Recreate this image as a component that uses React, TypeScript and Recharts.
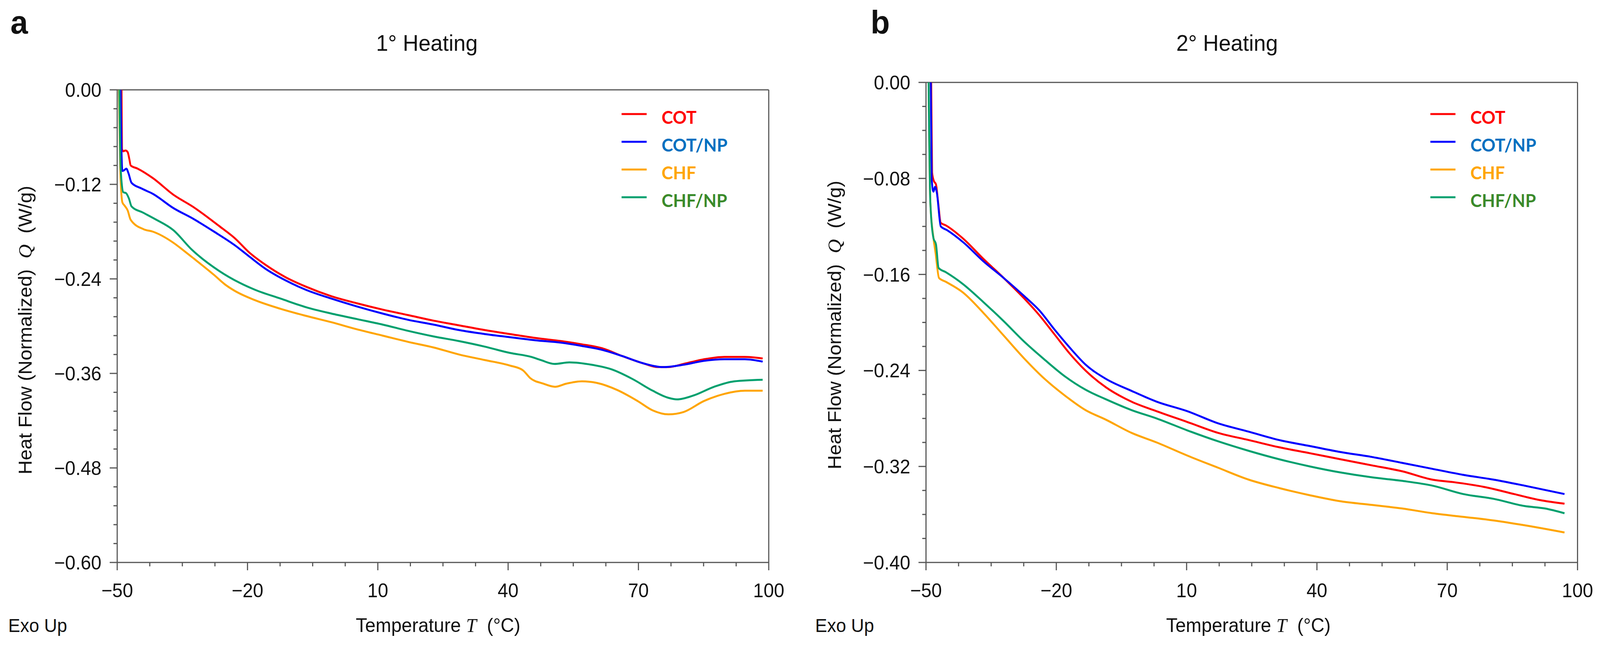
import React from 'react';
import { LineChart, Line, XAxis, YAxis, ReferenceLine } from 'recharts';

// DSC heat-flow curves, two heating runs
const AXIS = '#555555';
const FONT = '"Liberation Sans", Arial, sans-serif';
const LEGEND_FONT = 'Lato, "Open Sans", sans-serif';
const PAGE_W = 4273;
const PAGE_H = 1659;

const seriesNames = ['COT', 'COT/NP', 'CHF', 'CHF/NP'];
const lineColors = ['#ff0000', '#0000ff', '#ffa500', '#00a06e'];
const labelColors = ['#ff0000', '#0070c0', '#ffa500', '#3a8a2a'];

const xMajorTicks = [-50, -20, 10, 40, 70, 100];
const yMajorTicks1 = [-0.6, -0.48, -0.36, -0.24, -0.12, 0];
const yMajorTicks2 = [-0.4, -0.32, -0.24, -0.16, -0.08, 0];

// 1° heating
const h1CotT = [-49.0, -48.9, -48.6, -48.1, -47.6, -47.2, -46.9, -45.3, -41.8, -37.1, -32.4, -26.5, -23, -19.5, -15.9, -11.2, -6.5, -0.7, 5.2, 11.1, 17, 22.8, 28.7, 34.6, 40.4, 46.3, 52.2, 56.9, 61.6, 66.3, 71, 74.5, 76.9, 80.4, 85.1, 89.8, 94.5, 98.6];
const h1CotQ = [0, -0.075, -0.078, -0.077, -0.079, -0.088, -0.096, -0.100, -0.112, -0.133, -0.149, -0.173, -0.188, -0.207, -0.222, -0.238, -0.25, -0.262, -0.271, -0.279, -0.286, -0.293, -0.299, -0.305, -0.31, -0.315, -0.319, -0.323, -0.328, -0.338, -0.347, -0.352, -0.352, -0.348, -0.342, -0.339, -0.339, -0.341];

const h1CotNpT = [-49.2, -49.0, -48.8, -48.4, -47.9, -47.4, -46.7, -44.5, -41.8, -37.1, -32.4, -27.7, -23, -19.5, -15.9, -11.2, -6.5, -0.7, 5.2, 11.1, 17, 22.8, 28.7, 34.6, 40.4, 46.3, 52.2, 56.9, 61.6, 66.3, 71, 75.7, 80.4, 85.1, 89.8, 94.5, 98.6];
const h1CotNpQ = [0, -0.08, -0.103, -0.102, -0.100, -0.106, -0.118, -0.125, -0.132, -0.150, -0.164, -0.180, -0.197, -0.212, -0.227, -0.242, -0.254, -0.265, -0.275, -0.284, -0.292, -0.298, -0.305, -0.31, -0.314, -0.318, -0.321, -0.325, -0.33, -0.338, -0.347, -0.352, -0.349, -0.344, -0.342, -0.342, -0.345];

const h1ChfT = [-49.6, -49.3, -48.8, -48.3, -47.6, -46.9, -43.9, -41.8, -37.1, -34.7, -32.4, -27.7, -25.2, -23, -18.3, -12.4, -6.5, -0.7, 5.2, 11.1, 17, 22.8, 28.7, 34.6, 40.4, 43.4, 45.1, 48.1, 50.8, 53.4, 57, 60.4, 65.1, 69.8, 73.3, 76.9, 80.4, 85.1, 89.8, 94.5, 98.6];
const h1ChfQ = [0, -0.1, -0.143, -0.147, -0.153, -0.165, -0.177, -0.180, -0.194, -0.204, -0.214, -0.235, -0.247, -0.255, -0.267, -0.278, -0.287, -0.295, -0.304, -0.312, -0.320, -0.327, -0.336, -0.343, -0.350, -0.356, -0.366, -0.373, -0.377, -0.373, -0.370, -0.372, -0.381, -0.395, -0.407, -0.412, -0.409, -0.395, -0.386, -0.382, -0.382];

const h1ChfNpT = [-49.5, -49.2, -48.6, -48.0, -47.3, -46.7, -44, -41.3, -37.1, -32.8, -26.5, -21.8, -18.2, -12.4, -6.5, -0.7, 5.2, 11.1, 17, 22.8, 28.7, 34.6, 40.4, 45.3, 47.5, 50.7, 54.1, 59.2, 63.9, 68.6, 73.3, 76.9, 78.9, 82.7, 87.4, 92.1, 98.6];
const h1ChfNpQ = [0, -0.1, -0.130, -0.131, -0.138, -0.148, -0.156, -0.164, -0.178, -0.203, -0.230, -0.245, -0.254, -0.265, -0.276, -0.284, -0.291, -0.298, -0.306, -0.313, -0.319, -0.326, -0.334, -0.339, -0.343, -0.348, -0.346, -0.349, -0.355, -0.367, -0.382, -0.391, -0.393, -0.388, -0.377, -0.370, -0.368];

// 2° heating
const h2CotT = [-48.8, -48.6, -48.2, -47.7, -47.2, -46.6, -45.5, -41.5, -36.8, -32.1, -27.4, -23.9, -20.4, -16.9, -13.3, -8.6, -2.7, 3.1, 10.2, 17.2, 24.3, 31.3, 38.4, 45.4, 52.5, 59.6, 66.6, 71.3, 78.4, 85.4, 91.3, 97];
const h2CotQ = [0, -0.075, -0.082, -0.085, -0.100, -0.117, -0.119, -0.130, -0.147, -0.163, -0.180, -0.194, -0.210, -0.226, -0.240, -0.254, -0.266, -0.274, -0.283, -0.292, -0.298, -0.304, -0.309, -0.314, -0.319, -0.324, -0.331, -0.333, -0.337, -0.343, -0.348, -0.351];

const h2CotNpT = [-48.9, -48.7, -48.3, -47.9, -47.5, -46.6, -45.2, -41.5, -36.8, -32.1, -27.4, -23.9, -20.4, -16.9, -13.3, -8.6, -2.7, 3.1, 10.2, 17.2, 24.3, 31.3, 38.4, 45.4, 52.5, 59.6, 66.6, 73.7, 80.7, 87.8, 97];
const h2CotNpQ = [0, -0.08, -0.091, -0.087, -0.092, -0.120, -0.123, -0.133, -0.149, -0.163, -0.178, -0.190, -0.206, -0.221, -0.235, -0.247, -0.257, -0.266, -0.274, -0.284, -0.291, -0.298, -0.303, -0.308, -0.312, -0.317, -0.322, -0.327, -0.331, -0.336, -0.343];

const h2ChfT = [-49.4, -49.0, -48.3, -47.8, -47.0, -45.5, -41.5, -36.8, -32.1, -27.4, -22.7, -18, -13.3, -8.6, -2.7, 3.1, 10.2, 17.2, 24.3, 31.3, 38.4, 45.4, 52.5, 59.6, 66.6, 73.7, 80.7, 87.8, 97];
const h2ChfQ = [0, -0.10, -0.129, -0.142, -0.163, -0.166, -0.175, -0.192, -0.211, -0.230, -0.247, -0.261, -0.273, -0.281, -0.292, -0.300, -0.311, -0.321, -0.331, -0.338, -0.344, -0.349, -0.352, -0.355, -0.359, -0.362, -0.365, -0.369, -0.375];

const h2ChfNpT = [-49.4, -49.0, -48.3, -47.7, -47.1, -45.5, -41.5, -36.8, -32.1, -27.4, -22.7, -18, -13.3, -8.6, -2.7, 3.1, 10.2, 17.2, 24.3, 31.3, 38.4, 45.4, 52.5, 59.6, 66.6, 73.7, 80.7, 87.8, 92.5, 97];
const h2ChfNpQ = [0, -0.10, -0.1295, -0.135, -0.1546, -0.158, -0.168, -0.183, -0.199, -0.216, -0.231, -0.245, -0.256, -0.264, -0.273, -0.280, -0.290, -0.299, -0.307, -0.314, -0.320, -0.325, -0.329, -0.332, -0.336, -0.343, -0.347, -0.353, -0.355, -0.359];

const zip = (t: number[], q: number[]) => t.map((T, i) => ({ T, Q: q[i] }));

function subdivide(majors: number[], parts: number) {
  const out: number[] = [];
  for (let i = 0; i < majors.length - 1; i++) {
    const a = majors[i];
    const b = majors[i + 1];
    for (let k = 0; k < parts; k++) out.push(+(a + ((b - a) * k) / parts).toFixed(4));
  }
  out.push(majors[majors.length - 1]);
  return out;
}

const isMajor = (v: number, majors: number[]) => majors.some((m) => Math.abs(m - v) < 1e-6);
const fmtX = (v: number) => (v < 0 ? '\u2212' + Math.abs(v) : String(v));
const fmtY = (v: number) => (Math.abs(v) < 1e-9 ? '0.00' : '\u2212' + Math.abs(v).toFixed(2));

const makeXTick = (majors: number[]) => (props: any) => {
  const { x, y, payload } = props;
  const major = isMajor(payload.value, majors);
  return (
    <g>
      <line x1={x} x2={x} y1={y} y2={y + (major ? 20 : 10)} stroke={AXIS} strokeWidth={3} />
      {major && (
        <text x={x} y={y + 89} textAnchor="middle" fontSize={50} fontFamily={FONT} fill="#111">
          {fmtX(payload.value)}
        </text>
      )}
    </g>
  );
};

const makeYTick = (majors: number[]) => (props: any) => {
  const { x, y, payload } = props;
  const major = isMajor(payload.value, majors);
  return (
    <g>
      <line x1={x - (major ? 20 : 10)} x2={x} y1={y} y2={y} stroke={AXIS} strokeWidth={3} />
      {major && (
        <text x={x - 42} y={y + 18} textAnchor="end" fontSize={50} fontFamily={FONT} fill="#111">
          {fmtY(payload.value)}
        </text>
      )}
    </g>
  );
};

interface PanelProps {
  left: number;
  margin: { top: number; right: number; bottom: number; left: number };
  yMajors: number[];
  yParts: number;
  series: { T: number; Q: number }[][];
}

function Panel({ left, margin, yMajors, yParts, series }: PanelProps) {
  const yMin = yMajors[0];
  return (
    <div style={{ position: 'absolute', left, top: 8 }}>
      <LineChart width={2120} height={1643} margin={margin}>
        <XAxis
          dataKey="T"
          type="number"
          domain={[-50, 100]}
          allowDataOverflow
          ticks={subdivide(xMajorTicks, 4)}
          interval={0}
          tickSize={0}
          tickMargin={0}
          tickLine={false}
          tick={makeXTick(xMajorTicks)}
          axisLine={{ stroke: AXIS, strokeWidth: 3 }}
          height={120}
        />
        <YAxis
          type="number"
          domain={[yMin, 0]}
          allowDataOverflow
          ticks={subdivide(yMajors, yParts)}
          interval={0}
          tickSize={0}
          tickMargin={0}
          tickLine={false}
          tick={makeYTick(yMajors)}
          axisLine={{ stroke: AXIS, strokeWidth: 3 }}
          width={200}
        />
        <ReferenceLine y={0} stroke={AXIS} strokeWidth={3} />
        <ReferenceLine x={100} stroke={AXIS} strokeWidth={3} />
        {series.map((d, i) => (
          <Line
            key={seriesNames[i]}
            data={d}
            dataKey="Q"
            name={seriesNames[i]}
            type="monotone"
            stroke={lineColors[i]}
            strokeWidth={5}
            dot={false}
            isAnimationActive={false}
          />
        ))}
      </LineChart>
    </div>
  );
}

function Legend({ x, y }: { x: number; y: number }) {
  return (
    <g>
      {seriesNames.map((name, i) => (
        <g key={name}>
          <line x1={x} x2={x + 67} y1={y + i * 71} y2={y + i * 71} stroke={lineColors[i]} strokeWidth={5} />
          <text
            x={x + 107}
            y={y + i * 71 + 25}
            fontSize={46}
            fontWeight="bold"
            fontFamily={LEGEND_FONT}
            fill={labelColors[i]}
          >
            {name}
          </text>
        </g>
      ))}
    </g>
  );
}

function Texts({ letter, letterX, title, titleX, exoX, xTitleX, yLabelX, yLabelY, legendX }: any) {
  return (
    <g fontFamily={FONT} fill="#111">
      <text x={letterX} y={86} fontSize={84} fontWeight="bold">{letter}</text>
      <text x={titleX} y={130} fontSize={58} textAnchor="middle">{title}</text>
      <text x={exoX} y={1618} fontSize={48}>Exo Up</text>
      <text x={xTitleX} y={1618} fontSize={50} textAnchor="middle" style={{ whiteSpace: 'pre' }}>
        {'Temperature '}
        <tspan fontStyle="italic" fontFamily='"Liberation Serif", serif'>T</tspan>
        {'  (°C)'}
      </text>
      <text
        x={yLabelX}
        y={yLabelY}
        fontSize={50}
        textAnchor="middle"
        transform={`rotate(-90, ${yLabelX}, ${yLabelY})`}
        style={{ whiteSpace: 'pre' }}
      >
        {'Heat Flow (Normalized)  '}
        <tspan fontStyle="italic" fontFamily='"Liberation Serif", serif'>Q</tspan>
        {'  (W/g)'}
      </text>
      <Legend x={legendX} y={292} />
    </g>
  );
}

export default function App() {
  const heat1 = [zip(h1CotT, h1CotQ), zip(h1CotNpT, h1CotNpQ), zip(h1ChfT, h1ChfQ), zip(h1ChfNpT, h1ChfNpQ)];
  const heat2 = [zip(h2CotT, h2CotQ), zip(h2CotNpT, h2CotNpQ), zip(h2ChfT, h2ChfQ), zip(h2ChfNpT, h2ChfNpQ)];
  // fit the fixed 4273x1659 layout into whatever viewport the page really has
  const sx = window.innerWidth > 0 ? window.innerWidth / PAGE_W : 1;
  const sy = window.innerHeight > 0 ? window.innerHeight / PAGE_H : 1;
  return (
    <div
      style={{
        position: 'fixed',
        left: 0,
        top: 0,
        width: PAGE_W,
        height: PAGE_H,
        background: '#fff',
        transformOrigin: '0 0',
        transform: `scale(${sx}, ${sy})`,
      }}
    >
      <Panel left={8} margin={{ top: 222, right: 75, bottom: 91, left: 105 }} yMajors={yMajorTicks1} yParts={5} series={heat1} />
      <Panel left={2136} margin={{ top: 203, right: 43, bottom: 91, left: 137 }} yMajors={yMajorTicks2} yParts={4} series={heat2} />
      <svg width={PAGE_W} height={PAGE_H} style={{ position: 'absolute', left: 0, top: 0, pointerEvents: 'none' }}>
        <Texts letter="a" letterX={28} title="1° Heating" titleX={1140} exoX={22} xTitleX={1170} yLabelX={84} yLabelY={845} legendX={1660} />
        <Texts letter="b" letterX={2325} title="2° Heating" titleX={3277} exoX={2177} xTitleX={3334} yLabelX={2246} yLabelY={832} legendX={3820} />
      </svg>
    </div>
  );
}
